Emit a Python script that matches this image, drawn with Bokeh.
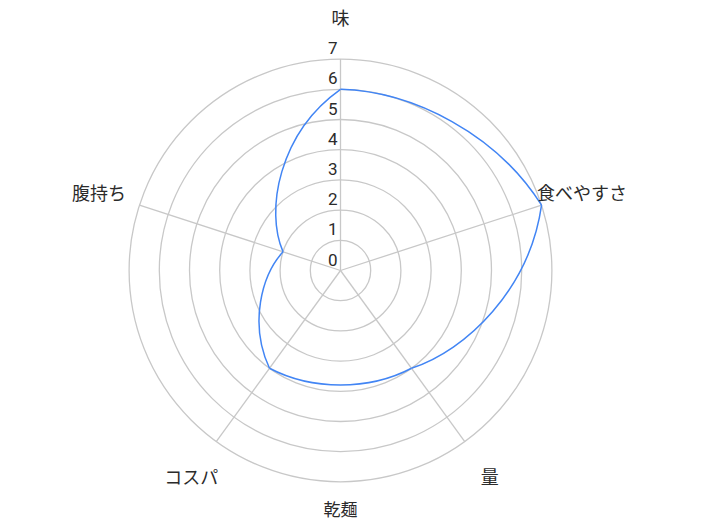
import math
from bokeh.plotting import figure
from bokeh.models import Range1d
from bokeh.core.properties import value
from bokeh.embed import file_html
from bokeh.resources import INLINE

# ---- data ----
categories = ["味", "食べやすさ", "量", "コスパ", "腹持ち"]
scores = [6, 7, 4, 4, 2]
tick_values = [0, 1, 2, 3, 4, 5, 6, 7]
tick_labels = ["0", "1", "2", "3", "4", "5", "6", "7"]
title_text = "乾麺"
max_value = 7

# ---- layout / style ----
W, H = 695, 524
PX = 30.2          # pixels per value unit
CX, CY = 340, 270  # centre in plot pixels
FONT = "Noto Sans CJK JP"
GRID = "#c8c8c8"
LINE = "#4285f4"
TEXT = "#2b2b2b"
LABEL_R = 8.41     # label distance (value units)
BLEND = 0.75       # polar-arc blending of the curve

p = figure(width=W, height=H, output_backend="svg", toolbar_location=None,
           x_range=Range1d(-CX / PX, (W - CX) / PX),
           y_range=Range1d(-(H - CY) / PX, CY / PX),
           min_border=0, outline_line_color=None)
p.axis.visible = False
p.grid.visible = False

n = len(categories)
angles = [math.pi / 2 - 2 * math.pi * k / n for k in range(n)]

# rings
rings = [v for v in tick_values if v > 0]
p.circle(x=[0] * len(rings), y=[0] * len(rings), radius=rings,
         fill_color=None, line_color=GRID, line_width=1.3)

# spokes
p.segment(x0=[0] * n, y0=[0] * n,
          x1=[max_value * math.cos(a) for a in angles],
          y1=[max_value * math.sin(a) for a in angles],
          line_color=GRID, line_width=1.3)

# data curve (segments bulging along the polar arc)
x0s, y0s, x1s, y1s, c0x, c0y, c1x, c1y = ([] for _ in range(8))
for i in range(n):
    j = (i + 1) % n
    ri, rj = scores[i], scores[j]
    ti = angles[i]
    dth = -2 * math.pi / n
    tj = ti + dth
    pix, piy = ri * math.cos(ti), ri * math.sin(ti)
    pjx, pjy = rj * math.cos(tj), rj * math.sin(tj)
    chx, chy = pjx - pix, pjy - piy
    dr = rj - ri

    def pol(r, t):
        return (dr * math.cos(t) - r * dth * math.sin(t),
                dr * math.sin(t) + r * dth * math.cos(t))

    d0 = pol(ri, ti)
    d1 = pol(rj, tj)
    D0 = ((1 - BLEND) * chx + BLEND * d0[0], (1 - BLEND) * chy + BLEND * d0[1])
    D1 = ((1 - BLEND) * chx + BLEND * d1[0], (1 - BLEND) * chy + BLEND * d1[1])
    x0s.append(pix); y0s.append(piy); x1s.append(pjx); y1s.append(pjy)
    c0x.append(pix + D0[0] / 3); c0y.append(piy + D0[1] / 3)
    c1x.append(pjx - D1[0] / 3); c1y.append(pjy - D1[1] / 3)

p.bezier(x0=x0s, y0=y0s, x1=x1s, y1=y1s, cx0=c0x, cy0=c0y, cx1=c1x, cy1=c1y,
         line_color=LINE, line_width=1.5)

# tick labels
p.text(x=[0] * len(tick_values), y=tick_values, text=tick_labels,
       x_offset=-3, y_offset=-11, text_align="right", text_baseline="middle",
       text_font=value("Roboto"), text_font_size="17px", text_color=TEXT)

# category labels
p.text(x=[LABEL_R * math.cos(a) for a in angles],
       y=[LABEL_R * math.sin(a) for a in angles],
       text=categories, text_align="center", text_baseline="middle",
       text_font=value(FONT), text_font_size="18px", text_color=TEXT)

# title (below)
p.text(x=[0], y=[-(508 - CY) / PX], text=[title_text], text_align="center",
       text_baseline="middle", text_font=value(FONT), text_font_size="17px",
       text_color=TEXT)

open("out.html", "w").write(file_html(p, INLINE))
